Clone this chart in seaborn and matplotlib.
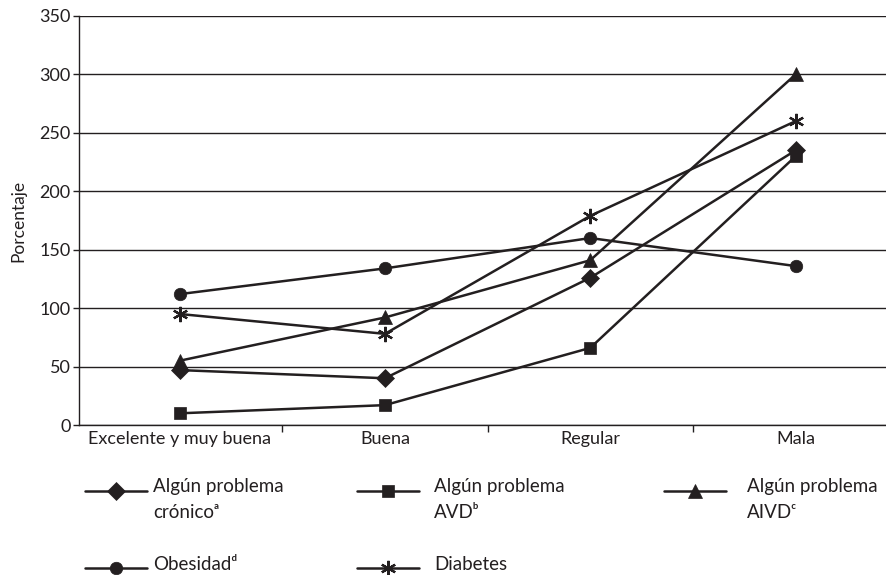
import matplotlib
matplotlib.use("Agg")
import matplotlib.pyplot as plt
import seaborn as sns
import pandas as pd
import numpy as np
from matplotlib.lines import Line2D
from matplotlib.legend_handler import HandlerLine2D
from matplotlib.ticker import FixedLocator

categories = ["Excelente y muy buena", "Buena", "Regular", "Mala"]
cronico = [47, 40, 126, 235]
avd = [10, 17, 66, 230]
aivd = [55, 92, 141, 300]
obesidad = [112, 134, 160, 136]
diabetes = [95, 78, 179, 260]

series_names = ["Algún problema\ncrónicoᵃ", "Algún problema\nAVDᵇ", "Algún problema\nAIVDᶜ", "Obesidadᵈ", "Diabetes"]
series_values = [cronico, avd, aivd, obesidad, diabetes]
markers = ["D", "s", "^", "o", (6, 2, 0)]
msizes = [9, 9, 10, 9, 11]

rows = []
for name, vals in zip(series_names, series_values):
    for i, v in enumerate(vals):
        rows.append({"serie": name, "x": i, "y": v})
df = pd.DataFrame(rows)

sns.set_theme(style="white")
plt.rcParams['font.family'] = ['Lato', 'DejaVu Sans']
INK = "#231f20"
FS = 13.5

fig = plt.figure(figsize=(8.87, 5.75), dpi=100)
ax = fig.add_axes([79/887, 1 - 425/575, 1 - 79/887, (425 - 16)/575])

def mew(m):
    return 1.6 if m == (6, 2, 0) else 0.5

for name, m, ms in zip(series_names, markers, msizes):
    sub = df[df["serie"] == name]
    sns.lineplot(data=sub, x="x", y="y", ax=ax, color=INK, lw=1.8,
                 marker=m, markersize=ms, markeredgecolor=INK,
                 markerfacecolor=INK, markeredgewidth=mew(m),
                 legend=False)

ax.set_xlim(-0.49, 3.445)
ax.set_ylim(0, 350)
ax.set_yticks(range(0, 351, 50))
ax.yaxis.grid(True, color=INK, lw=1.0)
ax.set_axisbelow(True)
ax.set_xticks(range(4))
ax.set_xticklabels(categories, fontsize=13, color=INK)
ax.xaxis.set_minor_locator(FixedLocator([0.5, 1.5, 2.5]))
ax.tick_params(axis="x", which="major", length=0, pad=4)
ax.tick_params(axis="x", which="minor", length=5, width=1, color=INK, direction="out", bottom=True)
ax.tick_params(axis="y", length=4, width=1, color=INK, direction="out", left=True,
               labelsize=13, labelcolor=INK, pad=2)
ax.set_xlabel("")
ax.set_ylabel("Porcentaje", fontsize=12.5, color=INK, labelpad=9)
for s in ["top", "right"]:
    ax.spines[s].set_visible(False)
for s in ["left", "bottom"]:
    ax.spines[s].set_color(INK)
    ax.spines[s].set_linewidth(1.0)


class ShiftedHandler(HandlerLine2D):
    def __init__(self, dy=0.0, **kw):
        super().__init__(**kw)
        self.dy = dy

    def create_artists(self, legend, orig_handle, xdescent, ydescent, width, height, fontsize, trans):
        arts = super().create_artists(legend, orig_handle, xdescent, ydescent, width, height, fontsize, trans)
        for a in arts:
            a.set_ydata(np.asarray(a.get_ydata(), dtype=float) + self.dy)
        return arts


# (handle left x px, legend top y px, text pad px, handle vertical shift pt)
leg_pos = [(85, 478, 6, 6.5), (357, 478, 15, 6.5), (664, 478, 21, 6.5),
           (85, 556, 6, -3.0), (357, 556, 15, -3.0)]

for name, m, ms, (lx, ty, pad, dy) in zip(series_names, markers, msizes, leg_pos):
    h = Line2D([0], [0], color=INK, lw=1.8, marker=m, markersize=ms,
               markerfacecolor=INK, markeredgecolor=INK, markeredgewidth=mew(m))
    fs_px = FS * 100 / 72
    lg = fig.legend([h], [name], loc="upper left", bbox_to_anchor=(lx/887, 1 - ty/575),
                    frameon=False, fontsize=FS, handlelength=62/fs_px,
                    handletextpad=pad/fs_px, borderaxespad=0, borderpad=0,
                    handler_map={h: ShiftedHandler(dy=dy)})
    for t in lg.get_texts():
        t.set_color(INK)
        t.set_linespacing(1.65)

fig.savefig("out.png", dpi=100)
